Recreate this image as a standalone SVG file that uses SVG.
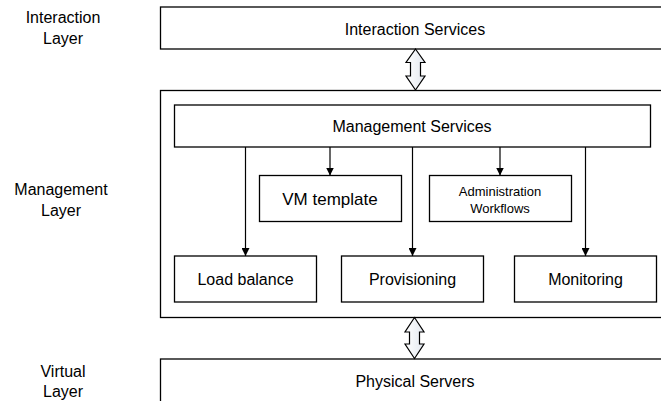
<svg xmlns="http://www.w3.org/2000/svg" width="661" height="401" viewBox="0 0 661 401">
<style>
.box{fill:#fff;stroke:#000;stroke-width:1.3}
.t{font-family:"Liberation Sans",Arial,sans-serif;font-size:16px;fill:#000;text-anchor:middle}
.s{font-size:13px}
.conn{stroke:#000;stroke-width:1.2;fill:none}
.dbl{fill:url(#g);stroke:#000;stroke-width:1.2;stroke-linejoin:miter}
</style>
<defs>
<marker id="ah" viewBox="0 0 10 10" refX="10" refY="5" markerWidth="8" markerHeight="8" markerUnits="userSpaceOnUse" orient="auto">
<path d="M0,0 L10,5 L0,10 Z" fill="#000"/>
</marker>
<linearGradient id="g" x1="0" y1="0" x2="1" y2="0">
<stop offset="0" stop-color="#ffffff"/>
<stop offset="1" stop-color="#e3e8ef"/>
</linearGradient>
</defs>
<g id="label-interaction"><text class="t" x="63" y="23">Interaction</text><text class="t" x="63" y="44">Layer</text></g>
<g id="label-management"><text class="t" x="61" y="195">Management</text><text class="t" x="61" y="216">Layer</text></g>
<g id="label-virtual"><text class="t" x="63" y="377">Virtual</text><text class="t" x="63" y="397">Layer</text></g>
<g id="interaction-services"><rect class="box" x="160.5" y="7" width="520" height="42"/><text class="t" x="415" y="35">Interaction Services</text></g>
<g id="management-layer"><rect class="box" x="160.5" y="90.5" width="520" height="227"/></g>
<g id="physical-servers"><rect class="box" x="160.5" y="359" width="520" height="60"/><text class="t" x="415" y="387">Physical Servers</text></g>
<g id="management-services"><rect class="box" x="174.5" y="105" width="476" height="42"/><text class="t" x="412" y="132">Management Services</text></g>
<g id="vm-template"><rect class="box" x="259.5" y="175.5" width="142" height="46"/><text class="t" x="330" y="205" style="font-size:17px">VM template</text></g>
<g id="admin-workflows"><rect class="box" x="429.5" y="175.5" width="142" height="46"/><text class="t s" x="500" y="195.5">Administration</text><text class="t s" x="500" y="212.5">Workflows</text></g>
<g id="load-balance"><rect class="box" x="174.5" y="256" width="142" height="46"/><text class="t" x="245.5" y="285">Load balance</text></g>
<g id="provisioning"><rect class="box" x="341.5" y="256" width="142" height="46"/><text class="t" x="412.5" y="285">Provisioning</text></g>
<g id="monitoring"><rect class="box" x="514.5" y="256" width="142" height="46"/><text class="t" x="585.5" y="285">Monitoring</text></g>
<g id="connectors">
<line class="conn" x1="245.5" y1="147" x2="245.5" y2="256" marker-end="url(#ah)"/>
<line class="conn" x1="330" y1="147" x2="330" y2="175.5" marker-end="url(#ah)"/>
<line class="conn" x1="412.5" y1="147" x2="412.5" y2="256" marker-end="url(#ah)"/>
<line class="conn" x1="500" y1="147" x2="500" y2="175.5" marker-end="url(#ah)"/>
<line class="conn" x1="585.5" y1="147" x2="585.5" y2="256" marker-end="url(#ah)"/>
<path class="dbl" d="M415.5,49 L425,62.5 L420.5,62.5 L420.5,76 L425,76 L415.5,90 L406,76 L410.5,76 L410.5,62.5 L406,62.5 Z"/>
<path class="dbl" d="M414.5,317.5 L424,332 L419.5,332 L419.5,344 L424,344 L414.5,358.5 L405,344 L409.5,344 L409.5,332 L405,332 Z"/>
</g>
</svg>
